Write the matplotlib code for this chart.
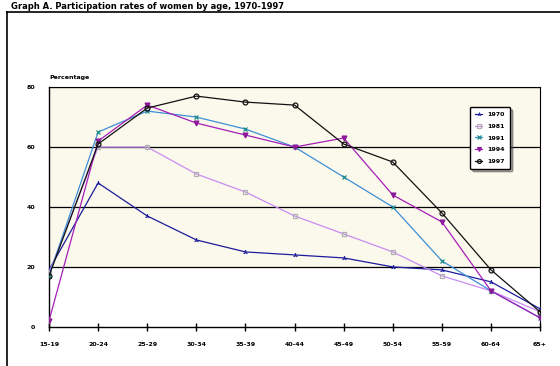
import matplotlib.pyplot as plt
import numpy as np

ages = ["15-19", "20-24", "25-29", "30-34", "35-39", "40-44",
        "45-49", "50-54", "55-59", "60-64", "65+"]
years = ["1970", "1981", "1991", "1994", "1997"]
r1970 = [19, 48, 37, 29, 25, 24, 23, 20, 19, 15, 6]
r1981 = [18, 60, 60, 51, 45, 37, 31, 25, 17, 12, 5]
r1991 = [17, 65, 72, 70, 66, 60, 50, 40, 22, 12, 3]
r1994 = [2, 62, 74, 68, 64, 60, 63, 44, 35, 12, 3]
r1997 = [17, 61, 73, 77, 75, 74, 61, 55, 38, 19, 5]
yticks = [0, 20, 40, 60, 80]

series = [r1970, r1981, r1991, r1994, r1997]
lines = ["#1c1c9c", "#c98cf2", "#3d8fd6", "#a61fb8", "#111111"]
marks = ["#1c1c9c", "#b0b0b0", "#1a8a8a", "#8a1a9a", "#111111"]
shapes = ["2", "s", "x", "v", "o"]
fills = [True, False, True, True, False]

fig = plt.figure(figsize=(5.6, 3.66), dpi=100)
ax = fig.add_axes([0.0875, 0.107, 0.877, 0.655])

# outer frame of the original graphic
fig.add_artist(plt.Line2D([0.0125, 0.0125], [0.0, 0.967], color="black", lw=1.2,
                          transform=fig.transFigure))
fig.add_artist(plt.Line2D([0.0125, 1.0], [0.967, 0.967], color="black", lw=1.2,
                          transform=fig.transFigure))
fig.text(0.02, 0.983, "Graph A. Participation rates of women by age, 1970-1997",
         fontsize=6, fontweight="bold", va="center", ha="left")

x = np.arange(len(ages))
ax.axhspan(20, 80, color="#fbf8ec", zorder=0)
for i, (vals, yr) in enumerate(zip(series, years)):
    ax.plot(x, vals, color=lines[i], lw=0.9, marker=shapes[i], ms=3.5,
            mec=marks[i], mfc=marks[i] if fills[i] else "none", mew=0.9,
            label=yr, zorder=3)

for g in yticks[1:]:
    ax.axhline(g, color="black", lw=0.9, zorder=1)

ax.set_xlim(0, len(ages) - 1)
ax.set_ylim(0, 80)
ax.set_xticks(x)
ax.set_xticklabels(ages, fontsize=4.5, fontweight="bold")
ax.set_yticks(yticks)
ax.set_yticklabels([str(v) for v in yticks], fontsize=4.5, fontweight="bold")
ax.tick_params(axis="x", direction="inout", length=6, width=1, pad=8)
ax.tick_params(axis="y", length=0, pad=10)
for side in ["top", "right"]:
    ax.spines[side].set_linewidth(0.8)
ax.spines["left"].set_linewidth(1.0)
ax.spines["bottom"].set_linewidth(1.0)
ax.text(0.0, 1.03, "Percentage", transform=ax.transAxes, fontsize=4.5,
        fontweight="bold", ha="left", va="bottom")

leg = ax.legend(loc="upper right", bbox_to_anchor=(0.945, 0.93), fontsize=4.5,
                frameon=True, fancybox=True, shadow=True, handlelength=1.2,
                markerscale=0.8, borderpad=0.8, labelspacing=1.0)
leg.get_frame().set_edgecolor("black")
leg.get_frame().set_linewidth(1.0)
for t in leg.get_texts():
    t.set_fontweight("bold")

fig.savefig("out.png", dpi=100)
